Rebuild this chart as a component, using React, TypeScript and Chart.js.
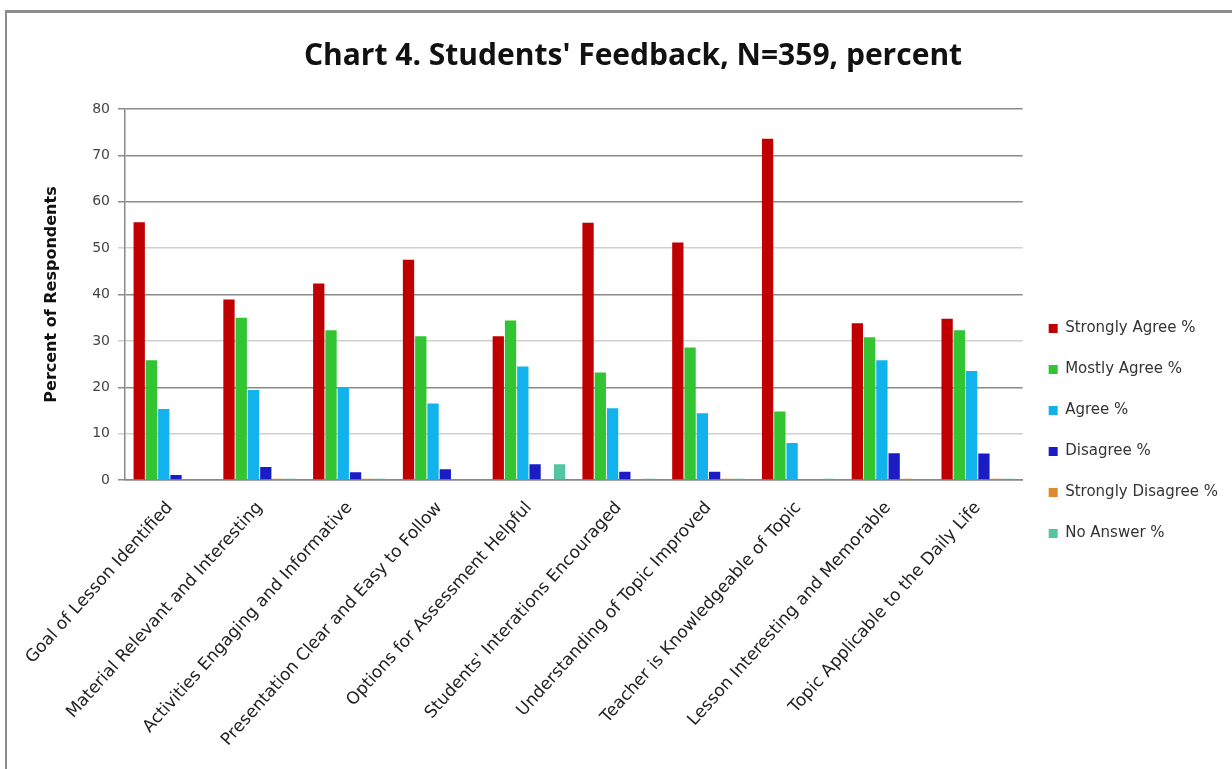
import React, { useEffect, useRef } from "react";
import { Chart, registerables } from "chart.js";

Chart.register(...registerables);

const categories = [
  "Goal of Lesson Identified",
  "Material Relevant and Interesting",
  "Activities Engaging and Informative",
  "Presentation Clear and Easy to Follow",
  "Options for Assessment Helpful",
  "Students' Interations Encouraged",
  "Understanding of Topic Improved",
  "Teacher is Knowledgeable of Topic",
  "Lesson Interesting and Memorable",
  "Topic Applicable to the Daily Life",
];

const seriesNames = [
  "Strongly Agree %",
  "Mostly Agree %",
  "Agree %",
  "Disagree %",
  "Strongly Disagree %",
  "No Answer %",
];

const stronglyAgree = [55.6, 38.9, 42.4, 47.5, 31.0, 55.5, 51.2, 73.6, 33.8, 34.8];
const mostlyAgree = [25.8, 35.0, 32.3, 31.0, 34.4, 23.2, 28.6, 14.8, 30.8, 32.3];
const agree = [15.3, 19.4, 20.0, 16.5, 24.5, 15.5, 14.4, 8.0, 25.8, 23.5];
const disagree = [1.1, 2.8, 1.7, 2.3, 3.4, 1.8, 1.8, 0, 5.8, 5.7];
const stronglyDisagree = [0, 0.3, 0.3, 0, 0, 0, 0.3, 0, 0.3, 0.3];
const noAnswer = [0, 0.3, 0.3, 0, 3.4, 0.3, 0.3, 0.3, 0, 0.3];

const seriesColors = ["#C00000", "#33C433", "#12B2EC", "#1C1CC4", "#E08A2F", "#55C4A0"];

const yTicks = [0, 10, 20, 30, 40, 50, 60, 70, 80];

export default function App() {
  const ref = useRef<HTMLCanvasElement | null>(null);

  useEffect(() => {
    document.body.style.margin = "0";
    const values = [stronglyAgree, mostlyAgree, agree, disagree, stronglyDisagree, noAnswer];
    const chart = new Chart(ref.current as HTMLCanvasElement, {
      type: "bar",
      data: {
        labels: categories,
        datasets: values.map((v, i) => ({
          label: seriesNames[i],
          data: v,
          backgroundColor: seriesColors[i],
          borderWidth: 0,
          categoryPercentage: 0.82,
          barPercentage: 0.92,
        })),
      },
      options: {
        animation: false,
        responsive: false,
        layout: { padding: { left: 38, right: 4, top: 0, bottom: 9 } },
        plugins: {
          title: {
            display: true,
            text: "Chart 4. Students' Feedback, N=359, percent",
            color: "#111",
            font: { family: "'Open Sans', sans-serif", size: 30, weight: "bold" },
            padding: { top: 38, bottom: 35 },
          },
          legend: {
            position: "right",
            title: { display: true, text: " ", font: { size: 10 }, padding: { top: 90, bottom: 0 } },
            labels: {
              boxWidth: 9,
              boxHeight: 9,
              padding: 26,
              color: "#333",
              font: { family: "'DejaVu Sans', sans-serif", size: 15 },
            },
          },
          tooltip: { enabled: false },
        },
        scales: {
          x: {
            grid: { display: false },
            border: { display: true, color: "#888", width: 1.5 },
            ticks: {
              color: "#222",
              padding: 10,
              font: { family: "'DejaVu Sans', sans-serif", size: 17 },
              maxRotation: 48,
              minRotation: 48,
              autoSkip: false,
            },
          },
          y: {
            min: 0,
            max: 80,
            afterBuildTicks: (axis: any) => {
              axis.ticks = yTicks.map((v) => ({ value: v }));
            },
            afterFit: (axis: any) => {
              axis.width = 87;
            },
            grid: {
              color: (ctx: any) => {
                const v = ctx.tick ? ctx.tick.value : 0;
                return v === 10 || v === 30 || v === 50 ? "#cfcfcf" : "#8a8a8a";
              },
              lineWidth: 1.5,
              tickLength: 7,
            },
            border: { display: true, color: "#888", width: 1.5 },
            ticks: {
              color: "#444",
              padding: 8,
              font: { family: "'DejaVu Sans', sans-serif", size: 14 },
            },
            title: {
              display: true,
              text: "Percent of Respondents",
              color: "#111",
              font: { family: "'DejaVu Sans', sans-serif", size: 16, weight: "bold" },
            },
          },
        },
      },
    });
    return () => chart.destroy();
  }, []);

  return (
    <div style={{ position: "relative", width: 1232, height: 769, background: "#fff", overflow: "hidden" }}>
      <div
        style={{
          position: "absolute",
          left: 5,
          top: 10,
          width: 1300,
          height: 800,
          borderTop: "3px solid #8c8c8c",
          borderLeft: "2px solid #8c8c8c",
        }}
      />
      <canvas ref={ref} width={1232} height={769} style={{ position: "absolute", left: 0, top: 0 }} />
    </div>
  );
}
